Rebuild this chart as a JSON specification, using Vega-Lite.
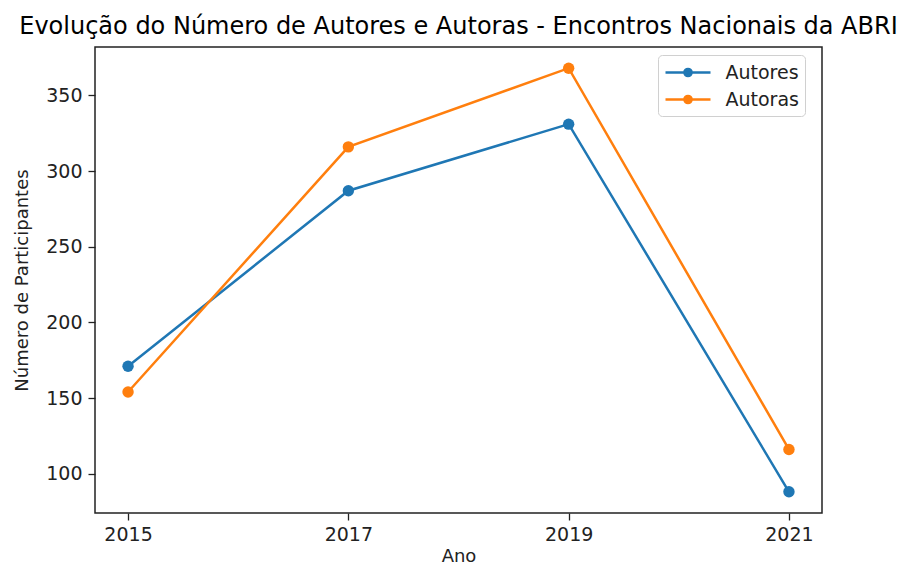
{
  "$schema": "https://vega.github.io/schema/vega-lite/v6.json",
  "width": 727,
  "height": 466,
  "autosize": {"type": "none"},
  "padding": {"left": 95, "top": 47, "right": 82, "bottom": 52},
  "background": "white",
  "title": {
    "text": "Evolução do Número de Autores e Autoras - Encontros Nacionais da ABRI",
    "font": "DejaVu Sans",
    "fontSize": 24,
    "fontWeight": "normal",
    "color": "black",
    "anchor": "middle",
    "offset": 8
  },
  "config": {
    "view": {"stroke": "#222", "strokeWidth": 1.5},
    "font": "DejaVu Sans",
    "axis": {
      "grid": false,
      "domain": false,
      "tickColor": "#222",
      "tickSize": 7,
      "tickWidth": 1.3,
      "labelFont": "DejaVu Sans",
      "labelFontSize": 19,
      "labelColor": "#222",
      "titleFont": "DejaVu Sans",
      "titleFontSize": 18,
      "titleFontWeight": "normal",
      "titleColor": "#222"
    }
  },
  "data": {
    "values": [
      {"Ano": 2015, "Serie": "Autores", "Valor": 171},
      {"Ano": 2017, "Serie": "Autores", "Valor": 287},
      {"Ano": 2019, "Serie": "Autores", "Valor": 331},
      {"Ano": 2021, "Serie": "Autores", "Valor": 88},
      {"Ano": 2015, "Serie": "Autoras", "Valor": 154},
      {"Ano": 2017, "Serie": "Autoras", "Valor": 316},
      {"Ano": 2019, "Serie": "Autoras", "Valor": 368},
      {"Ano": 2021, "Serie": "Autoras", "Valor": 116}
    ]
  },
  "mark": {"type": "line", "strokeWidth": 2.5, "point": {"filled": true, "size": 130, "opacity": 1}},
  "encoding": {
    "x": {
      "field": "Ano",
      "type": "quantitative",
      "scale": {"domain": [2014.7, 2021.3], "nice": false, "zero": false},
      "axis": {"values": [2015, 2017, 2019, 2021], "format": "d", "labelPadding": 5, "titlePadding": 3, "title": "Ano"}
    },
    "y": {
      "field": "Valor",
      "type": "quantitative",
      "scale": {"domain": [74, 382], "nice": false, "zero": false},
      "axis": {"values": [100, 150, 200, 250, 300, 350], "labelPadding": 6, "titlePadding": 14, "title": "Número de Participantes"}
    },
    "color": {
      "field": "Serie",
      "type": "nominal",
      "scale": {"domain": ["Autores", "Autoras"], "range": ["#1f77b4", "#ff7f0e"]},
      "legend": {
        "title": null,
        "orient": "none",
        "legendX": 563,
        "legendY": 8,
        "padding": 6,
        "rowPadding": 5,
        "strokeColor": "#d0d0d0",
        "fillColor": "white",
        "cornerRadius": 4,
        "labelFont": "DejaVu Sans",
        "labelFontSize": 19,
        "labelColor": "#222",
        "symbolType": "M-2.25,0H2.25M-0.36,0A0.36,0.36 0 1,1 0.36,0A0.36,0.36 0 1,1 -0.36,0Z",
        "symbolSize": 400,
        "symbolStrokeWidth": 2.5,
        "symbolOffset": 12.5,
        "labelOffset": 26,
        "symbolOpacity": 1,
        "encode": {
          "symbols": {
            "update": {
              "fill": {"scale": "color", "field": "value"},
              "stroke": {"scale": "color", "field": "value"},
              "fillOpacity": {"value": 1}
            }
          }
        }
      }
    }
  }
}
